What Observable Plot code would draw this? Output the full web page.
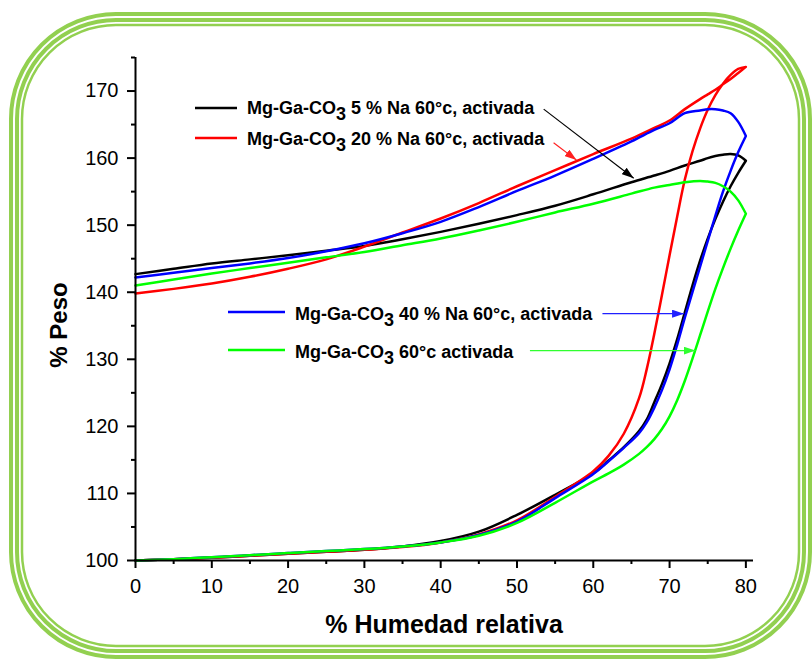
<!DOCTYPE html>
<html>
<head>
<meta charset="utf-8">
<script src="https://cdn.jsdelivr.net/npm/d3@7"></script>
<script src="https://cdn.jsdelivr.net/npm/@observablehq/plot@0.6"></script>
<style>
  html, body { margin: 0; padding: 0; background: #fff; }
  #wrap { position: relative; width: 812px; height: 660px; overflow: hidden; font-family: "Liberation Sans", Arial, sans-serif; }
  #wrap > svg { position: absolute; left: 0; top: 0; }
</style>
</head>
<body>
<div id="wrap"></div>
<script>
// ---- data ----
const rhAds = [0, 5, 10, 15, 20, 25, 30, 35, 40, 45, 50, 55, 60, 62, 64, 66, 67, 68, 69, 70, 71, 72, 73, 74, 75, 76, 77, 78, 79, 80];
const rhDes = [80, 79, 78, 77, 76, 75, 74, 72, 70, 68, 65, 60, 55, 50, 45, 40, 35, 30, 25, 20, 15, 10, 5, 0];

// 5 % Na (black)
const ads5  = [100, 100.2, 100.4, 100.7, 101.0, 101.3, 101.6, 102.1, 102.9, 104.3, 106.8, 109.8, 113.0, 114.9, 116.9, 119.3, 121.0, 123.6, 126.3, 129.4, 133.0, 137.0, 141.0, 144.7, 148.0, 150.9, 153.5, 155.8, 157.8, 159.6];
const des5  = [159.6, 160.4, 160.6, 160.5, 160.3, 160.0, 159.6, 158.9, 158.1, 157.4, 156.4, 154.6, 152.9, 151.5, 150.2, 149.0, 147.9, 146.9, 146.2, 145.5, 144.9, 144.3, 143.5, 142.7];
// 20 % Na (red)
const ads20 = [100, 100.2, 100.4, 100.7, 101.0, 101.3, 101.6, 102.0, 102.7, 103.9, 106.0, 109.5, 113.3, 115.6, 118.9, 124.2, 128.5, 133.8, 139.6, 145.5, 151.3, 156.8, 161.0, 164.4, 167.2, 169.4, 171.1, 172.4, 173.3, 173.6];
const des20 = [173.6, 172.7, 171.8, 171.0, 170.2, 169.5, 168.8, 167.3, 165.6, 164.5, 162.9, 160.6, 158.2, 155.8, 153.3, 151.0, 148.9, 146.8, 144.9, 143.5, 142.3, 141.3, 140.5, 139.8];
// 40 % Na (blue)
const ads40 = [100, 100.2, 100.5, 100.8, 101.1, 101.4, 101.7, 102.1, 102.7, 103.8, 105.8, 109.3, 112.9, 114.8, 116.8, 119.0, 120.6, 122.8, 125.4, 128.5, 132.2, 136.2, 140.0, 143.8, 147.6, 151.4, 155.0, 158.1, 160.9, 163.3];
const des40 = [163.3, 165.4, 166.7, 167.1, 167.3, 167.3, 167.1, 166.7, 165.2, 164.2, 162.5, 159.9, 157.4, 155.1, 152.7, 150.5, 148.8, 147.3, 146.1, 145.1, 144.3, 143.6, 142.9, 142.2];
// sin Na (green)
const ads0  = [100, 100.2, 100.5, 100.8, 101.1, 101.4, 101.7, 102.1, 102.7, 103.7, 105.6, 108.6, 111.8, 113.0, 114.3, 115.9, 116.9, 118.1, 119.6, 121.5, 123.9, 126.8, 130.1, 133.6, 137.1, 140.5, 143.6, 146.5, 149.2, 151.7];
const des0  = [151.7, 153.7, 155.0, 155.8, 156.3, 156.5, 156.6, 156.4, 156.0, 155.6, 154.7, 153.2, 151.9, 150.5, 149.2, 148.0, 147.0, 146.0, 145.2, 144.4, 143.6, 142.8, 141.9, 141.0];

const seriesNames = ["5 % Na", "20 % Na", "40 % Na", "sin Na"];
const seriesColors = ["#000000", "#ff0000", "#0000ff", "#00ff00"];
const seriesAds = [ads5, ads20, ads40, ads0];
const seriesDes = [des5, des20, des40, des0];

const legendLabels = [
  ["Mg-Ga-CO", "3", " 5 % Na 60°c, activada"],
  ["Mg-Ga-CO", "3", " 20 % Na 60°c, activada"],
  ["Mg-Ga-CO", "3", " 40 % Na 60°c, activada"],
  ["Mg-Ga-CO", "3", " 60°c activada"]
];

// annotation arrows (data units)
const arrowX1 = [53.5, 54.8, 61.2, 51.7];
const arrowY1 = [167.3, 162.3, 136.8, 131.3];
const arrowX2 = [65.3, 57.8, 71.9, 73.4];
const arrowY2 = [157.0, 159.7, 136.8, 131.3];
const arrowColors = ["#000000", "#ff2020", "#2020ff", "#30ff30"];

const xTicks = [0, 10, 20, 30, 40, 50, 60, 70, 80];
const xMinor = [5, 15, 25, 35, 45, 55, 65, 75];
const yTicks = [100, 110, 120, 130, 140, 150, 160, 170];
const yMinor = [105, 115, 125, 135, 145, 155, 165, 175];

// ---- build tables ----
const rows = [];
seriesNames.forEach((s, i) => {
  rhAds.forEach((h, j) => rows.push({serie: s, rh: h, w: seriesAds[i][j]}));
  rhDes.forEach((h, j) => rows.push({serie: s, rh: h, w: seriesDes[i][j]}));
});
const arrows = arrowX1.map((d, i) => ({x1: d, y1: arrowY1[i], x2: arrowX2[i], y2: arrowY2[i], c: arrowColors[i]}));

const wrap = document.getElementById("wrap");

// decorative frame (behind)
const frame = d3.create("svg").attr("width", 812).attr("height", 660);
[[0, 4], [6, 4], [11, 2.5]].forEach(([inset, sw]) => {
  frame.append("rect")
    .attr("x", 11 + inset).attr("y", 14 + inset)
    .attr("width", 799 - 2 * inset).attr("height", 643 - 2 * inset)
    .attr("rx", 105 - inset).attr("ry", 105 - inset)
    .attr("fill", "none").attr("stroke", "#92d050").attr("stroke-width", sw);
});
wrap.appendChild(frame.node());

const chart = Plot.plot({
  width: 812,
  height: 660,
  marginLeft: 135,
  marginRight: 59,
  marginTop: 57,
  marginBottom: 100,
  style: {background: "transparent", color: "#000", fontFamily: "'Liberation Sans', Arial, sans-serif"},
  x: {domain: [0, 81]},
  y: {domain: [100, 175]},
  color: {domain: seriesNames, range: seriesColors},
  marks: [
    Plot.line(rows, {x: "rh", y: "w", z: "serie", stroke: "serie", strokeWidth: 2.5, curve: "catmull-rom"}),
    Plot.link(arrows, {x1: "x1", y1: "y1", x2: "x2", y2: "y2", stroke: "c", strokeWidth: 1.2}),
    Plot.ruleX([0], {stroke: "#000", strokeWidth: 2}),
    Plot.ruleY([100], {stroke: "#000", strokeWidth: 2}),
    Plot.axisX({ticks: xTicks, tickSize: 8, tickPadding: 10, fontSize: 20, strokeWidth: 2, label: null}),
    Plot.axisX({ticks: xMinor, tickSize: 4, tickFormat: () => "", strokeWidth: 2, label: null}),
    Plot.axisY({ticks: yTicks, tickSize: 8, tickPadding: 9, fontSize: 20, strokeWidth: 2, label: null}),
    Plot.axisY({ticks: yMinor, tickSize: 4, tickFormat: () => "", strokeWidth: 2, label: null})
  ]
});
wrap.appendChild(chart);

// filled arrowheads for the annotation links
const svg = d3.select(chart);
const defs = svg.insert("defs", ":first-child");
svg.selectAll("g[aria-label='link'] path").each(function(d, i) {
  const col = this.getAttribute("stroke") || arrowColors[i];
  const id = "ah" + i;
  defs.append("marker").attr("id", id)
    .attr("viewBox", "0 0 12 8").attr("refX", 12).attr("refY", 4)
    .attr("markerWidth", 12).attr("markerHeight", 8)
    .attr("markerUnits", "userSpaceOnUse").attr("orient", "auto")
    .append("path").attr("d", "M0,0L12,4L0,8Z").attr("fill", col);
  this.setAttribute("marker-end", `url(#${id})`);
});

// overlay: legend + axis titles
const over = d3.create("svg").attr("width", 812).attr("height", 660).style("pointer-events", "none");
const legendPos = [
  {lx1: 195, lx2: 237, ly: 108, tx: 247, ty: 114},
  {lx1: 195, lx2: 237, ly: 138, tx: 247, ty: 145},
  {lx1: 228, lx2: 285, ly: 312, tx: 295, ty: 320},
  {lx1: 228, lx2: 285, ly: 350, tx: 295, ty: 358}
];
legendPos.forEach((p, i) => {
  over.append("line").attr("x1", p.lx1).attr("x2", p.lx2).attr("y1", p.ly).attr("y2", p.ly)
    .attr("stroke", seriesColors[i]).attr("stroke-width", 2.5);
  const t = over.append("text").attr("x", p.tx).attr("y", p.ty)
    .attr("font-size", 18).attr("font-weight", "bold")
    .attr("font-family", "'Liberation Sans', Arial, sans-serif");
  t.append("tspan").text(legendLabels[i][0]);
  t.append("tspan").attr("dy", 6).text(legendLabels[i][1]);
  t.append("tspan").attr("dy", -6).text(legendLabels[i][2]);
});
over.append("text").attr("x", 444).attr("y", 633).attr("text-anchor", "middle")
  .attr("font-size", 25).attr("font-weight", "bold")
  .attr("font-family", "'Liberation Sans', Arial, sans-serif")
  .text("% Humedad relativa");
over.append("text").attr("transform", "translate(67,325) rotate(-90)").attr("text-anchor", "middle")
  .attr("font-size", 24).attr("font-weight", "bold")
  .attr("font-family", "'Liberation Sans', Arial, sans-serif")
  .text("% Peso");
wrap.appendChild(over.node());
</script>
</body>
</html>
